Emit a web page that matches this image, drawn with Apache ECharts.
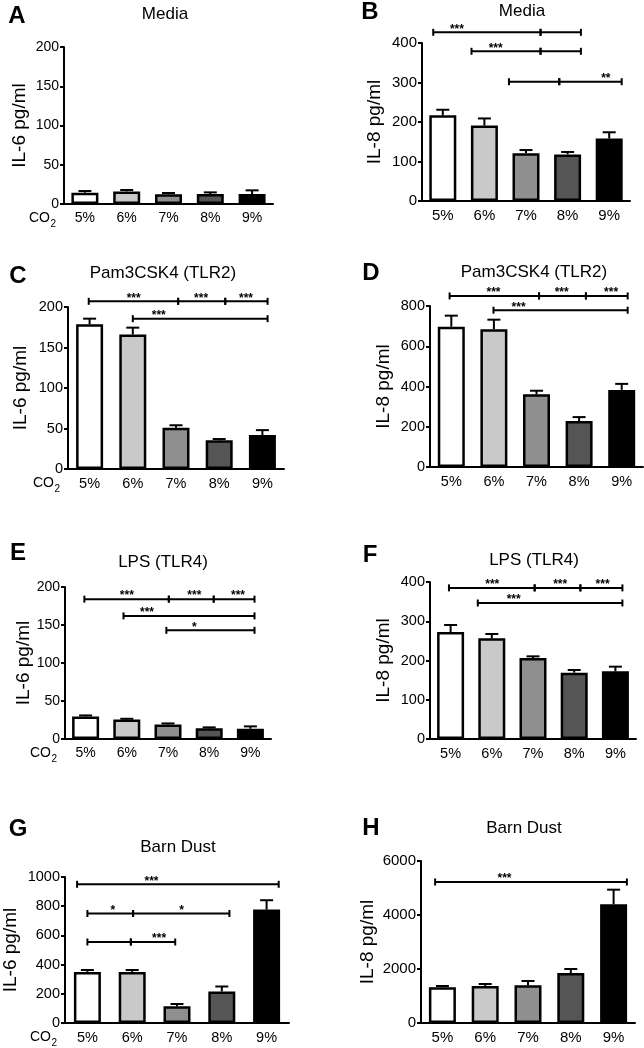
<!DOCTYPE html>
<html>
<head>
<meta charset="utf-8">
<script src="https://cdn.jsdelivr.net/npm/echarts@6/dist/echarts.min.js"></script>
<style>
html, body { margin: 0; padding: 0; background: #fff; }
#main { width: 644px; height: 1048px; }
</style>
</head>
<body>
<div id="main"></div>
<script>
var co2 = ['5%', '6%', '7%', '8%', '9%'];

// mean and SEM (pg/ml) for each CO2 level
var il6Media = [14.4, 16.0, 12.3, 12.7, 12.7];
var il6MediaSem = [2.1, 1.8, 1.7, 2.1, 4.7];
var il8Media = [217, 191, 121, 118, 158];
var il8MediaSem = [14, 18, 8, 6, 16];
var il6Pam = [178.6, 166, 51, 35.4, 42];
var il6PamSem = [7, 8.5, 3, 1.6, 6];
var il8Pam = [697, 685, 361, 228, 383];
var il8PamSem = [55, 47, 18, 20, 30];
var il6Lps = [29.7, 25.8, 19.2, 14, 13.5];
var il6LpsSem = [1.3, 0.8, 1.3, 1.3, 3.1];
var il8Lps = [272.6, 256.5, 206.4, 169, 172.4];
var il8LpsSem = [17.8, 11, 4.2, 6.8, 11.9];
var il6Dust = [350, 350, 114, 216, 777];
var il6DustSem = [13, 13, 16, 34, 64];
var il8Dust = [1321, 1370, 1395, 1852, 4395];
var il8DustSem = [49, 74, 160, 148, 543];

// significance brackets: [from, to, level, star pos, stars]  (x in category units)
var sigA = [];
var sigB = [[-0.23, 2.35, 427, 0.34, '***'], [2.35, 3.32, 427, 0, ''],
            [0.69, 2.35, 379, 1.27, '***'], [2.35, 3.32, 379, 0, ''],
            [1.59, 2.80, 302, 0, ''], [2.80, 4.30, 302, 3.92, '**']];
var sigC = [[-0.02, 2.05, 207, 1.02, '***'], [2.05, 3.14, 207, 2.58, '***'], [3.14, 4.12, 207, 3.62, '***'],
            [1.0, 4.12, 185.6, 1.6, '***']];
var sigD = [[-0.04, 2.06, 850, 0.99, '***'], [2.06, 3.16, 850, 2.59, '***'], [3.16, 4.14, 850, 3.75, '***'],
            [0.99, 4.14, 779, 1.58, '***']];
var sigE = [[-0.03, 2.02, 184, 1.0, '***'], [2.02, 3.11, 184, 2.64, '***'], [3.11, 4.1, 184, 3.7, '***'],
            [0.92, 4.1, 162, 1.49, '***'],
            [1.96, 4.1, 143, 2.64, '*']];
var sigF = [[-0.04, 2.04, 385, 1.01, '***'], [2.04, 3.15, 385, 2.66, '***'], [3.15, 4.17, 385, 3.69, '***'],
            [0.66, 4.17, 346.5, 1.53, '***']];
var sigG = [[-0.23, 4.27, 950, 1.43, '***'],
            [0, 1.02, 750, 0.57, '*'], [1.02, 3.17, 750, 2.1, '*'],
            [0, 0.97, 555, 0, ''], [0.97, 1.96, 555, 1.6, '***']];
var sigH = [[-0.17, 4.31, 5222, 1.45, '***']];

var fills = ['#ffffff', '#c9c9c9', '#8f8f8f', '#555555', '#000000'];
var font = '"Liberation Sans", Arial, Helvetica, sans-serif';

var panels = [
  {letter: 'A', title: 'Media', yName: 'IL-6 pg/ml', mean: il6Media, sem: il6MediaSem, sig: sigA, max: 200, step: 50,
   grid: [64, 47, 209, 157], letterAt: [17, 16], titleAt: [165, 14], nameGap: 35, fs: 14, co2: true},
  {letter: 'B', title: 'Media', yName: 'IL-8 pg/ml', mean: il8Media, sem: il8MediaSem, sig: sigB, max: 400, step: 100,
   grid: [422, 43, 208, 158], letterAt: [370, 12], titleAt: [522, 11], nameGap: 38, fs: 15},
  {letter: 'C', title: 'Pam3CSK4 (TLR2)', yName: 'IL-6 pg/ml', mean: il6Pam, sem: il6PamSem, sig: sigC, max: 200, step: 50,
   grid: [68, 307, 216, 162], letterAt: [18, 276], titleAt: [163, 273], nameGap: 38, fs: 14.5, co2: true},
  {letter: 'D', title: 'Pam3CSK4 (TLR2)', yName: 'IL-8 pg/ml', mean: il8Pam, sem: il8PamSem, sig: sigD, max: 800, step: 200,
   grid: [430, 306, 213, 161], letterAt: [371, 273], titleAt: [534, 272], nameGap: 37, fs: 14.5},
  {letter: 'E', title: 'LPS (TLR4)', yName: 'IL-6 pg/ml', mean: il6Lps, sem: il6LpsSem, sig: sigE, max: 200, step: 50,
   grid: [65, 587, 206, 152], letterAt: [18, 553], titleAt: [163, 562], nameGap: 32, fs: 14, co2: true},
  {letter: 'F', title: 'LPS (TLR4)', yName: 'IL-8 pg/ml', mean: il8Lps, sem: il8LpsSem, sig: sigF, max: 400, step: 100,
   grid: [430, 582, 206, 157], letterAt: [370, 555], titleAt: [534, 560], nameGap: 37, fs: 14.5},
  {letter: 'G', title: 'Barn Dust', yName: 'IL-6 pg/ml', mean: il6Dust, sem: il6DustSem, sig: sigG, max: 1000, step: 200,
   grid: [65, 877, 224, 146], letterAt: [18, 829], titleAt: [178, 847], nameGap: 45, fs: 14.5, co2: true},
  {letter: 'H', title: 'Barn Dust', yName: 'IL-8 pg/ml', mean: il8Dust, sem: il8DustSem, sig: sigH, max: 6000, step: 2000,
   grid: [421, 861, 214, 162], letterAt: [371, 828], titleAt: [524, 828], nameGap: 44, fs: 15}
];

var black = {stroke: '#000', lineWidth: 2};

function errRender(params, api) {
  var base = api.coord([api.value(0), api.value(1)]);
  var top = api.coord([api.value(0), api.value(2)]);
  return {type: 'group', children: [
    {type: 'line', shape: {x1: base[0], y1: base[1], x2: top[0], y2: top[1]}, style: black},
    {type: 'line', shape: {x1: top[0] - 6.5, y1: top[1], x2: top[0] + 6.5, y2: top[1]}, style: black}
  ]};
}

function sigRender(sig) {
  return function (params, api) {
    var s = sig[params.dataIndex];
    var a = api.coord([s[0], s[2]]);
    var b = api.coord([s[1], s[2]]);
    var kids = [
      {type: 'line', shape: {x1: a[0], y1: a[1], x2: b[0], y2: b[1]}, style: black},
      {type: 'line', shape: {x1: a[0], y1: a[1] - 3.5, x2: a[0], y2: a[1] + 3.5}, style: black},
      {type: 'line', shape: {x1: b[0], y1: b[1] - 3.5, x2: b[0], y2: b[1] + 3.5}, style: black}
    ];
    if (s[4]) {
      var t = api.coord([s[3], s[2]]);
      kids.push({type: 'text', style: {text: s[4], x: t[0], y: t[1] - 3, fill: '#000',
        font: 'bold 12px ' + font, align: 'center', verticalAlign: 'middle',
        textAlign: 'center', textVerticalAlign: 'middle'}});
    }
    return {type: 'group', children: kids};
  };
}

var grids = [], xAxes = [], yAxes = [], series = [], titles = [], graphics = [];

panels.forEach(function (p, k) {
  grids.push({left: p.grid[0], top: p.grid[1], width: p.grid[2], height: p.grid[3],
    containLabel: false, outerBoundsMode: 'none'});
  xAxes.push({type: 'category', gridIndex: k, data: co2,
    axisLine: {onZero: false, lineStyle: {color: '#000', width: 2}},
    axisTick: {show: false},
    axisLabel: {color: '#000', fontSize: p.fs, fontFamily: font, margin: 7}});
  xAxes.push({type: 'value', gridIndex: k, min: -0.5, max: 4.5, show: false});
  yAxes.push({type: 'value', gridIndex: k, min: 0, max: p.max, interval: p.step,
    name: p.yName, nameLocation: 'middle', nameGap: p.nameGap, nameMoveOverlap: false,
    nameTextStyle: {color: '#000', fontSize: 19, fontFamily: font},
    axisLine: {show: true, onZero: false, lineStyle: {color: '#000', width: 2}},
    axisTick: {show: true, length: 4, lineStyle: {color: '#000', width: 2}},
    splitLine: {show: false},
    axisLabel: {color: '#000', fontSize: p.fs, fontFamily: font, margin: 5,
      formatter: function (v) { return String(v); }}});

  series.push({type: 'bar', xAxisIndex: 2 * k, yAxisIndex: k, barWidth: 27,
    itemStyle: {borderColor: '#000', borderWidth: 2.5},
    data: p.mean.map(function (v, i) { return {value: v, itemStyle: {color: fills[i]}}; })});
  series.push({type: 'custom', xAxisIndex: 2 * k, yAxisIndex: k, clip: false, z: 3,
    renderItem: errRender,
    data: p.mean.map(function (v, i) { return [i, v, v + p.sem[i]]; })});
  if (p.sig.length) {
    series.push({type: 'custom', xAxisIndex: 2 * k + 1, yAxisIndex: k, clip: false, z: 3,
      renderItem: sigRender(p.sig),
      data: p.sig.map(function (s) { return [s[0], s[2], s[1]]; })});
  }

  titles.push({text: p.letter, left: p.letterAt[0], top: p.letterAt[1], padding: 0,
    textAlign: 'center', textVerticalAlign: 'middle',
    textStyle: {color: '#000', fontSize: 24, fontWeight: 'bold', fontFamily: font}});
  titles.push({text: p.title, left: p.titleAt[0], top: p.titleAt[1], padding: 0,
    textAlign: 'center', textVerticalAlign: 'middle',
    textStyle: {color: '#000', fontSize: 17, fontWeight: 'normal', fontFamily: font}});

  if (p.co2) {
    var gx = p.grid[0] - 35, gy = p.grid[1] + p.grid[3] + 14;
    graphics.push({type: 'text', x: gx, y: gy, style: {text: 'CO', fill: '#000', font: '14px ' + font,
      verticalAlign: 'middle', textVerticalAlign: 'middle'}});
    graphics.push({type: 'text', x: gx + 21.5, y: gy + 6, style: {text: '2', fill: '#000', font: '10px ' + font,
      verticalAlign: 'middle', textVerticalAlign: 'middle'}});
  }
});

var myChart = echarts.init(document.getElementById('main'));
myChart.setOption({
  animation: false,
  backgroundColor: '#fff',
  title: titles,
  grid: grids,
  xAxis: xAxes,
  yAxis: yAxes,
  graphic: graphics,
  series: series
});
</script>
</body>
</html>
